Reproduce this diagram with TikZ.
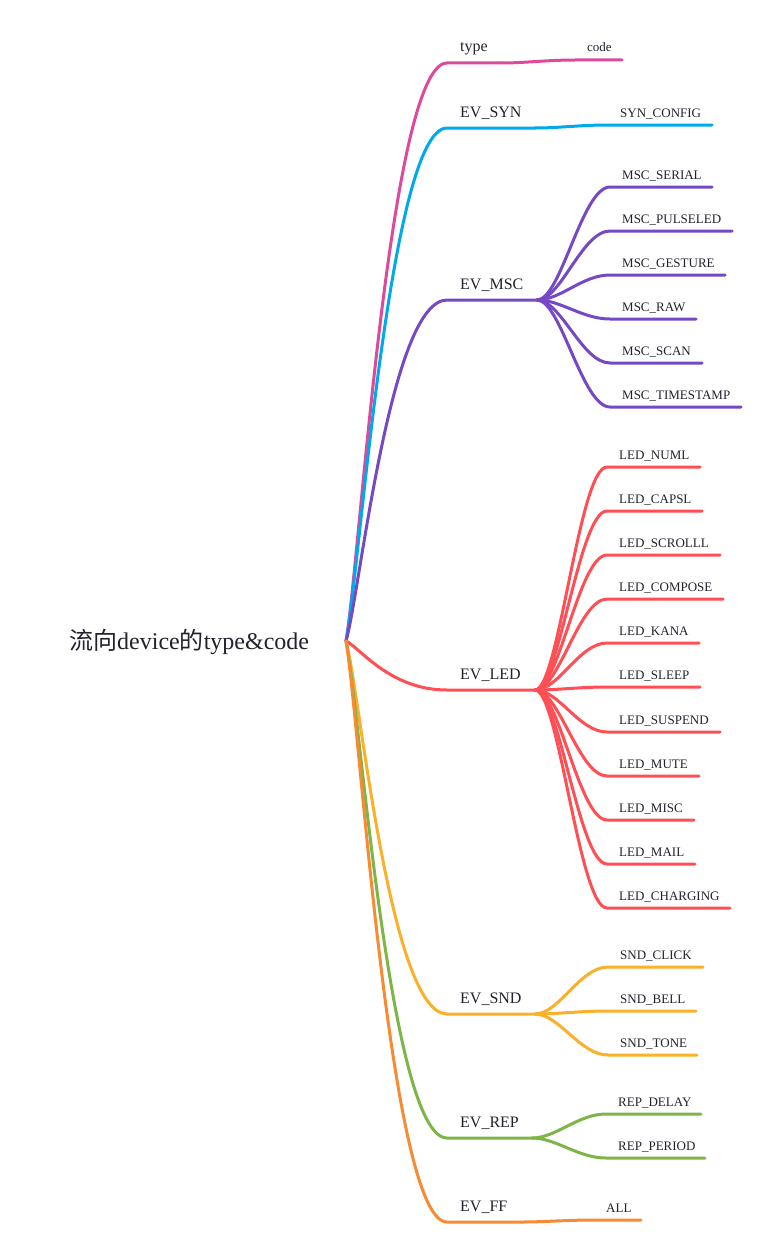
\documentclass[tikz,border=0pt]{standalone}
\usepackage{fontspec}
\setmainfont{Liberation Serif}
\newfontfamily\cjk{Noto Sans CJK SC}
\usetikzlibrary{calc}
\definecolor{cpink}{HTML}{DD4A9C}
\definecolor{cblue}{HTML}{00A8EC}
\definecolor{cpurple}{HTML}{7549C4}
\definecolor{cred}{HTML}{FF4F55}
\definecolor{cyellow}{HTML}{FBB02A}
\definecolor{cgreen}{HTML}{7DB547}
\definecolor{corange}{HTML}{F78A32}
\definecolor{ctext}{HTML}{22222E}
\tikzset{
  edge/.style={line width=3pt, line cap=round},
  rootcurve/.style={to path={let \p1=(\tikztostart), \p2=(\tikztotarget) in
      .. controls (\x1+14pt,{\y1+0.14*(\y2-\y1)}) and (\x1+44pt,\y2) .. (\tikztotarget) \tikztonodes}},
  subcurve/.style={to path={let \p1=(\tikztostart), \p2=(\tikztotarget) in
      .. controls (\x1+24pt,\y1) and (\x2-28pt,\y2) .. (\tikztotarget) \tikztonodes}},
  rootlab/.style={inner sep=0pt, anchor=base west, text=ctext, font=\fontsize{24}{27}\selectfont},
  lab1/.style={inner sep=0pt, anchor=base west, text=ctext, font=\fontsize{16}{18}\selectfont},
  lab2/.style={inner sep=0pt, anchor=base west, text=ctext, font=\fontsize{13}{15}\selectfont},
}
\newcommand\kids[4]{% parent, color, start x, list
  \foreach \nm/\yy/\ee/\lab in {#4}{
    \coordinate (\nm-s) at (#3,\yy);
    \coordinate (\nm-e) at (\ee,\yy);
    \node[lab2] (\nm) at (#3+12,\yy-8) {\lab};
    \draw[edge,#2] (#1-e) to[subcurve] (\nm-s) -- (\nm-e);
  }}
\begin{document}
\begin{tikzpicture}[x=1pt,y=-1pt]
\useasboundingbox[fill=white] (0,0) rectangle (769,1255);

% root
\node[rootlab] (root) at (69,649) {{\cjk 流向}device{\cjk 的}type\&code};
\coordinate (root-e) at (346,641);

% level 1: name/y/hub/label/color
\foreach \nm/\yy/\hx/\lab/\col in {
  type/63/501/type/cpink,
  syn/128/535/EV\_SYN/cblue,
  msc/300/537/EV\_MSC/cpurple,
  led/690/535/EV\_LED/cred,
  snd/1014/535/EV\_SND/cyellow,
  rep/1138/532/EV\_REP/cgreen,
  ff/1222/521/EV\_FF/corange}{
  \coordinate (\nm-s) at (447,\yy);
  \coordinate (\nm-e) at (\hx,\yy);
  \node[lab1] (\nm) at (460,\yy-11) {\lab};
  \draw[edge,\col] (root-e) to[rootcurve] (\nm-s) -- (\nm-e);
}

% level 2
\kids{type}{cpink}{575}{code/60/622/code}
\kids{syn}{cblue}{608}{synconfig/125/712/SYN\_CONFIG}
\kids{msc}{cpurple}{610}{
  mscserial/187/712/MSC\_SERIAL,
  mscpulseled/231/732/MSC\_PULSELED,
  mscgesture/275/725/MSC\_GESTURE,
  mscraw/319/696/MSC\_RAW,
  mscscan/363/702/MSC\_SCAN,
  msctimestamp/407/741/MSC\_TIMESTAMP}
\kids{led}{cred}{607}{
  lednuml/467/700/LED\_NUML,
  ledcapsl/511/702/LED\_CAPSL,
  ledscrolll/555/720/LED\_SCROLLL,
  ledcompose/599/723/LED\_COMPOSE,
  ledkana/643/699/LED\_KANA,
  ledsleep/687/700/LED\_SLEEP,
  ledsuspend/732/720/LED\_SUSPEND,
  ledmute/776/699/LED\_MUTE,
  ledmisc/820/694/LED\_MISC,
  ledmail/864/695/LED\_MAIL,
  ledcharging/908/730/LED\_CHARGING}
\kids{snd}{cyellow}{608}{
  sndclick/967/703/SND\_CLICK,
  sndbell/1011/696/SND\_BELL,
  sndtone/1055/697/SND\_TONE}
\kids{rep}{cgreen}{606}{
  repdelay/1114/701/REP\_DELAY,
  repperiod/1158/705/REP\_PERIOD}
\kids{ff}{corange}{594}{all/1220/641/ALL}
\end{tikzpicture}
\end{document}
